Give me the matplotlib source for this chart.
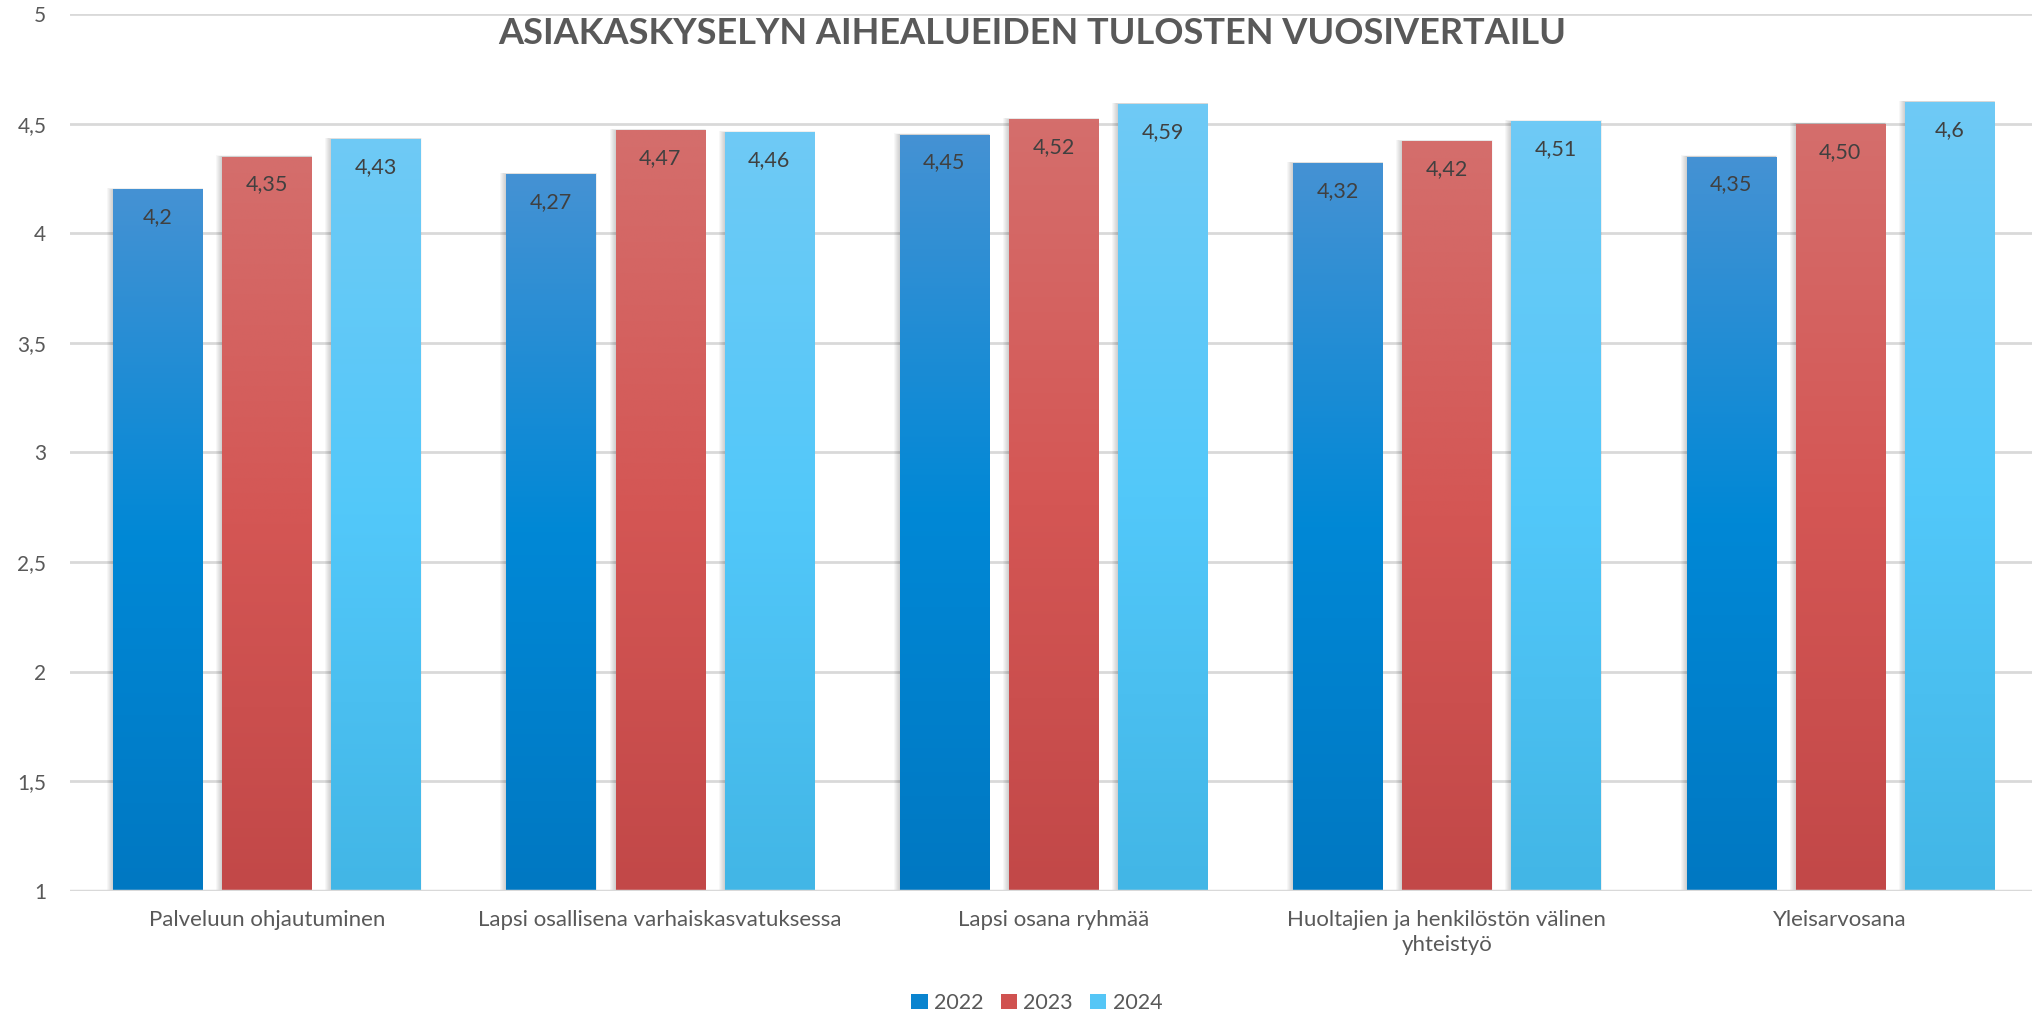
# coding=utf-8
"""Vuosivertailu asiakaskyselyn aihealueiden tuloksista."""

# Third party imports:
import matplotlib
matplotlib.use("Agg")
import matplotlib.pyplot as plt
import numpy as np
from matplotlib.colors import LinearSegmentedColormap
from matplotlib.patches import Rectangle

categories = ["Palveluun ohjautuminen", "Lapsi osallisena varhaiskasvatuksessa",
              "Lapsi osana ryhmää", "Huoltajien ja henkilöstön välinen\nyhteistyö",
              "Yleisarvosana"]
years = ["2022", "2023", "2024"]
values_2022 = [4.2, 4.27, 4.45, 4.32, 4.35]
values_2023 = [4.35, 4.47, 4.52, 4.42, 4.50]
values_2024 = [4.43, 4.46, 4.59, 4.51, 4.6]
labels_2022 = ["4,2", "4,27", "4,45", "4,32", "4,35"]
labels_2023 = ["4,35", "4,47", "4,52", "4,42", "4,50"]
labels_2024 = ["4,43", "4,46", "4,59", "4,51", "4,6"]
y_ticks = [1, 1.5, 2, 2.5, 3, 3.5, 4, 4.5, 5]
y_tick_labels = ["1", "1,5", "2", "2,5", "3", "3,5", "4", "4,5", "5"]

# Gradient stops (top, middle, bottom) for each series:
gradients = [["#4592D3", "#0088D6", "#0078C2"],
             ["#D46E6C", "#D45654", "#C24848"],
             ["#6FCAF5", "#52C8FA", "#42B6E6"]]
base_colours = ["#0A84CF", "#D05250", "#55C6F6"]

plt.rcParams["font.family"] = ["Lato", "DejaVu Sans"]

W, H = 2033, 1018
fig = plt.figure(figsize=(W / 100, H / 100), dpi=100)
ax = fig.add_axes([70 / W, (H - 891) / H, (W - 70) / W, (891 - 14) / H])

# Gridlines:
for spine in ax.spines.values():
    spine.set_visible(False)
ax.set_yticks(y_ticks)
ax.set_yticklabels(y_tick_labels, fontsize=15, color="#595959")
ax.tick_params(axis="y", length=0, pad=17)
ax.yaxis.grid(True, color="#D9D9D9", linewidth=2)
ax.set_axisbelow(True)

x = np.arange(len(categories))
width, step = 0.2265, 0.2774
px_x = 1 / 393.0
px_y = 0.5 / 110.0

series = [(values_2022, labels_2022), (values_2023, labels_2023), (values_2024, labels_2024)]
for i, (vals, labs) in enumerate(series):
    cmap = LinearSegmentedColormap.from_list(f"g{i}", gradients[i][::-1])
    grad = np.linspace(0, 1, 256).reshape(-1, 1)
    for xi, v, lab in zip(x, vals, labs):
        left = xi + (i - 1) * step - width / 2
        # Soft drop shadow:
        for k in range(1, 7):
            ax.add_patch(Rectangle((left - k * px_x, 1), width + 2 * k * px_x * 0.6,
                                   v - 1 + k * px_y * 0.2, facecolor="black",
                                   alpha=0.03, linewidth=0, zorder=2))
        bar = Rectangle((left, 1), width, v - 1, facecolor="none", linewidth=0, zorder=3)
        ax.add_patch(bar)
        im = ax.imshow(grad, cmap=cmap, origin="lower", aspect="auto",
                       extent=(left, left + width, 1, v), zorder=3)
        im.set_clip_path(bar)
        ax.annotate(lab, (xi + (i - 1) * step, v), xytext=(0, -28),
                    textcoords="offset pixels", ha="center", va="center",
                    fontsize=15.5, color="#404040", zorder=5)

ax.set_xlim(-0.5, 4.49)
ax.set_ylim(1, 5)
ax.axhline(1, color="#D9D9D9", linewidth=2.5, zorder=4)

# Category labels:
ax.set_xticks(x)
ax.set_xticklabels(categories, fontsize=16, color="#595959", linespacing=1.3)
ax.tick_params(axis="x", length=0, pad=14)

# Title:
fig.text(1032 / W, 1 - 33 / H, "ASIAKASKYSELYN AIHEALUEIDEN TULOSTEN VUOSIVERTAILU",
         ha="center", va="center", fontsize=26, fontweight="bold", color="#595959")

# Legend:
handles = [Rectangle((0, 0), 1, 1, facecolor=c, linewidth=0) for c in base_colours]
fig.legend(handles, years, loc="center", bbox_to_anchor=(1037 / W, 1 - 1003 / H),
           ncol=3, frameon=False, fontsize=15.5, handlelength=0.75, handleheight=0.75,
           handletextpad=0.3, columnspacing=0.8, labelcolor="#595959")

fig.savefig("out.png", dpi=100, facecolor="white")
